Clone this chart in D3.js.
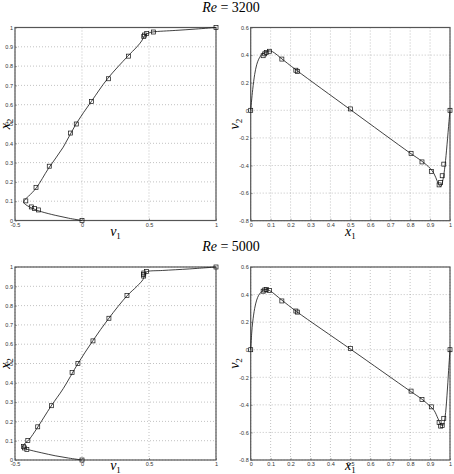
<!DOCTYPE html>
<html>
<head>
<meta charset="utf-8">
<script src="https://cdn.jsdelivr.net/npm/d3@7"></script>
<style>
body { margin: 0; background: #fff; }
svg { display: block; }
.tick text { font-family: "Liberation Sans", Arial, sans-serif; font-size: 5.5px; fill: #333; }
</style>
</head>
<body>
<svg id="chart"></svg>
<script>
// Ghia et al. reference points (squares)
var ghiaY = [1.0, 0.9766, 0.9688, 0.9609, 0.9531, 0.8516, 0.7344, 0.6172, 0.5, 0.4531, 0.2813, 0.1719, 0.1016, 0.0703, 0.0625, 0.0547, 0.0];
var ghiaU3200 = [1.0, 0.53236, 0.48296, 0.46547, 0.46101, 0.34682, 0.19791, 0.07156, -0.04272, -0.08636, -0.24427, -0.34323, -0.41933, -0.37827, -0.35344, -0.32407, 0.0];
var ghiaU5000 = [1.0, 0.48223, 0.4612, 0.45992, 0.46036, 0.33556, 0.20087, 0.08183, -0.03039, -0.07404, -0.22855, -0.3305, -0.40435, -0.43643, -0.42901, -0.41165, 0.0];

var ghiaX = [1.0, 0.9688, 0.9609, 0.9531, 0.9453, 0.9063, 0.8594, 0.8047, 0.5, 0.2344, 0.2266, 0.1563, 0.0938, 0.0781, 0.0703, 0.0625, 0.0];
var ghiaV3200 = [0.0, -0.39017, -0.47425, -0.52357, -0.54053, -0.44307, -0.37401, -0.31184, 0.00999, 0.28188, 0.2903, 0.37119, 0.42768, 0.41906, 0.40917, 0.3956, 0.0];
var ghiaV5000 = [0.0, -0.49774, -0.55069, -0.55408, -0.52876, -0.41442, -0.36214, -0.30018, 0.00945, 0.2728, 0.28066, 0.35368, 0.42951, 0.43648, 0.43329, 0.42447, 0.0];

// computed solution (solid line)
var lineV1_3200 = [0, -0.1, -0.2, -0.3, -0.35, -0.39, -0.42, -0.435, -0.43, -0.4, -0.34, -0.25, -0.14, -0.045, 0.07, 0.19, 0.34, 0.41, 0.445, 0.46, 0.47, 0.5, 0.53, 0.7, 0.85, 1.0];
var lineX2_3200 = [0, 0.012, 0.027, 0.045, 0.057, 0.07, 0.082, 0.093, 0.105, 0.125, 0.17, 0.27, 0.38, 0.5, 0.617, 0.734, 0.85, 0.9, 0.93, 0.95, 0.96, 0.972, 0.977, 0.985, 0.992, 1.0];

var lineV1_5000 = [0, -0.1, -0.2, -0.3, -0.38, -0.42, -0.44, -0.435, -0.41, -0.39, -0.34, -0.23, -0.14, -0.03, 0.08, 0.2, 0.335, 0.41, 0.455, 0.465, 0.475, 0.49, 0.6, 0.8, 1.0];
var lineX2_5000 = [0, 0.01, 0.022, 0.037, 0.05, 0.058, 0.068, 0.08, 0.095, 0.11, 0.16, 0.28, 0.37, 0.5, 0.617, 0.734, 0.85, 0.9, 0.935, 0.955, 0.97, 0.977, 0.982, 0.99, 1.0];

var lineX1_3200 = [0, 0.01, 0.02, 0.03, 0.04, 0.05, 0.06, 0.08, 0.1, 0.12, 0.15, 0.23, 0.5, 0.8, 0.86, 0.9, 0.92, 0.935, 0.945, 0.955, 0.965, 0.975, 0.985, 0.995, 1.0];
var lineV2_3200 = [0, 0.15, 0.26, 0.33, 0.37, 0.395, 0.41, 0.425, 0.43, 0.415, 0.38, 0.29, 0.005, -0.31, -0.37, -0.42, -0.46, -0.51, -0.545, -0.55, -0.5, -0.4, -0.25, -0.08, 0];

var lineX1_5000 = [0, 0.005, 0.01, 0.02, 0.03, 0.04, 0.05, 0.06, 0.075, 0.09, 0.1, 0.156, 0.23, 0.5, 0.8, 0.86, 0.9, 0.92, 0.94, 0.955, 0.965, 0.975, 0.985, 0.993, 1.0];
var lineV2_5000 = [0, 0.12, 0.2, 0.3, 0.36, 0.395, 0.415, 0.428, 0.437, 0.432, 0.425, 0.36, 0.277, 0.005, -0.3, -0.36, -0.41, -0.44, -0.5, -0.545, -0.55, -0.49, -0.33, -0.15, 0];

var vTicks = [-0.5, 0, 0.5, 1];
var x2Ticks = [0, 0.1, 0.2, 0.3, 0.4, 0.5, 0.6, 0.7, 0.8, 0.9, 1];
var x1Ticks = [0, 0.1, 0.2, 0.3, 0.4, 0.5, 0.6, 0.7, 0.8, 0.9, 1];
var v2Ticks = [-0.8, -0.6, -0.4, -0.2, 0, 0.2, 0.4, 0.6];

var titles = ["3200", "5000"];

var width = 454, height = 474;
var svg = d3.select("#chart").attr("width", width).attr("height", height);

function fmt(d) { return d == 0 ? "0" : String(d); }

function panel(box, xDom, yDom, xT, yT, lx, ly, px, py, xLab, yLab) {
	var x = d3.scaleLinear().domain(xDom).range([box.l, box.r]);
	var y = d3.scaleLinear().domain(yDom).range([box.b, box.t]);
	var g = svg.append("g");

	// grid
	g.selectAll(".gx").data(xT).enter().append("line")
		.attr("x1", function(d){ return x(d); }).attr("x2", function(d){ return x(d); })
		.attr("y1", box.t).attr("y2", box.b)
		.attr("stroke", "#999").attr("stroke-width", 0.6).attr("stroke-dasharray", "1,2");
	g.selectAll(".gy").data(yT).enter().append("line")
		.attr("y1", function(d){ return y(d); }).attr("y2", function(d){ return y(d); })
		.attr("x1", box.l).attr("x2", box.r)
		.attr("stroke", "#999").attr("stroke-width", 0.6).attr("stroke-dasharray", "1,2");

	// axes
	var xa = d3.axisBottom(x).tickValues(xT).tickFormat(fmt).tickSize(-2).tickPadding(2.5);
	var ya = d3.axisLeft(y).tickValues(yT).tickFormat(fmt).tickSize(-2).tickPadding(2);
	g.append("g").attr("transform", "translate(0," + box.b + ")").call(xa)
		.call(function(s){ s.select(".domain").remove(); s.selectAll("line").attr("stroke", "#444").attr("stroke-width", 0.5); });
	g.append("g").attr("transform", "translate(" + box.l + ",0)").call(ya)
		.call(function(s){ s.select(".domain").remove(); s.selectAll("line").attr("stroke", "#444").attr("stroke-width", 0.5); });

	g.append("rect").attr("x", box.l).attr("y", box.t)
		.attr("width", box.r - box.l).attr("height", box.b - box.t)
		.attr("fill", "none").attr("stroke", "#555").attr("stroke-width", 1.2);

	// solution line
	var pts = lx.map(function(d, i){ return [d, ly[i]]; });
	var line = d3.line().x(function(d){ return x(d[0]); }).y(function(d){ return y(d[1]); })
		.curve(d3.curveCatmullRom.alpha(0.5));
	g.append("path").attr("d", line(pts)).attr("fill", "none")
		.attr("stroke", "#111").attr("stroke-width", 0.8);

	// squares
	var sq = px.map(function(d, i){ return [d, py[i]]; });
	g.selectAll(".sq").data(sq).enter().append("rect")
		.attr("x", function(d){ return x(d[0]) - 2; })
		.attr("y", function(d){ return y(d[1]) - 2; })
		.attr("width", 4).attr("height", 4)
		.attr("fill", "none").attr("stroke", "#111").attr("stroke-width", 0.7);

	// labels
	var cx = (box.l + box.r) / 2, cy = (box.t + box.b) / 2;
	var xl = g.append("text").attr("x", cx).attr("y", Math.min(box.b + 15, 470))
		.attr("text-anchor", "middle")
		.style("font-family", "'Liberation Serif', 'Times New Roman', serif").style("font-size", "14px");
	xl.append("tspan").style("font-style", "italic").text(xLab[0]);
	xl.append("tspan").attr("dy", 3).style("font-size", "9px").text(xLab[1]);

	var yl = g.append("text").attr("transform", "translate(" + (box.l - box.yo) + "," + cy + ") rotate(-90)")
		.attr("text-anchor", "middle")
		.style("font-family", "'Liberation Serif', 'Times New Roman', serif").style("font-size", "14px");
	yl.append("tspan").style("font-style", "italic").text(yLab[0]);
	yl.append("tspan").attr("dy", 3).style("font-size", "9px").text(yLab[1]);
}

function title(yPos, re) {
	var t = svg.append("text").attr("x", 231).attr("y", yPos).attr("text-anchor", "middle")
		.style("font-family", "'Liberation Serif', 'Times New Roman', serif").style("font-size", "14px");
	t.append("tspan").style("font-style", "italic").text("Re");
	t.append("tspan").text(" = " + re);
}

var b1 = {l: 15, r: 216, t: 27.5, b: 220.5, yo: 5};
var b2 = {l: 250.7, r: 450, t: 27.5, b: 220.7, yo: 12};
var b3 = {l: 15, r: 216, t: 267, b: 460, yo: 5};
var b4 = {l: 250.7, r: 450, t: 267, b: 460, yo: 12};

title(12, titles[0]);
title(251, titles[1]);

panel(b1, [-0.5, 1], [0, 1], vTicks, x2Ticks, lineV1_3200, lineX2_3200, ghiaU3200, ghiaY, ["v", "1"], ["x", "2"]);
panel(b2, [0, 1], [-0.8, 0.6], x1Ticks, v2Ticks, lineX1_3200, lineV2_3200, ghiaX, ghiaV3200, ["x", "1"], ["v", "2"]);
panel(b3, [-0.5, 1], [0, 1], vTicks, x2Ticks, lineV1_5000, lineX2_5000, ghiaU5000, ghiaY, ["v", "1"], ["x", "2"]);
panel(b4, [0, 1], [-0.8, 0.6], x1Ticks, v2Ticks, lineX1_5000, lineV2_5000, ghiaX, ghiaV5000, ["x", "1"], ["v", "2"]);
</script>
</body>
</html>
